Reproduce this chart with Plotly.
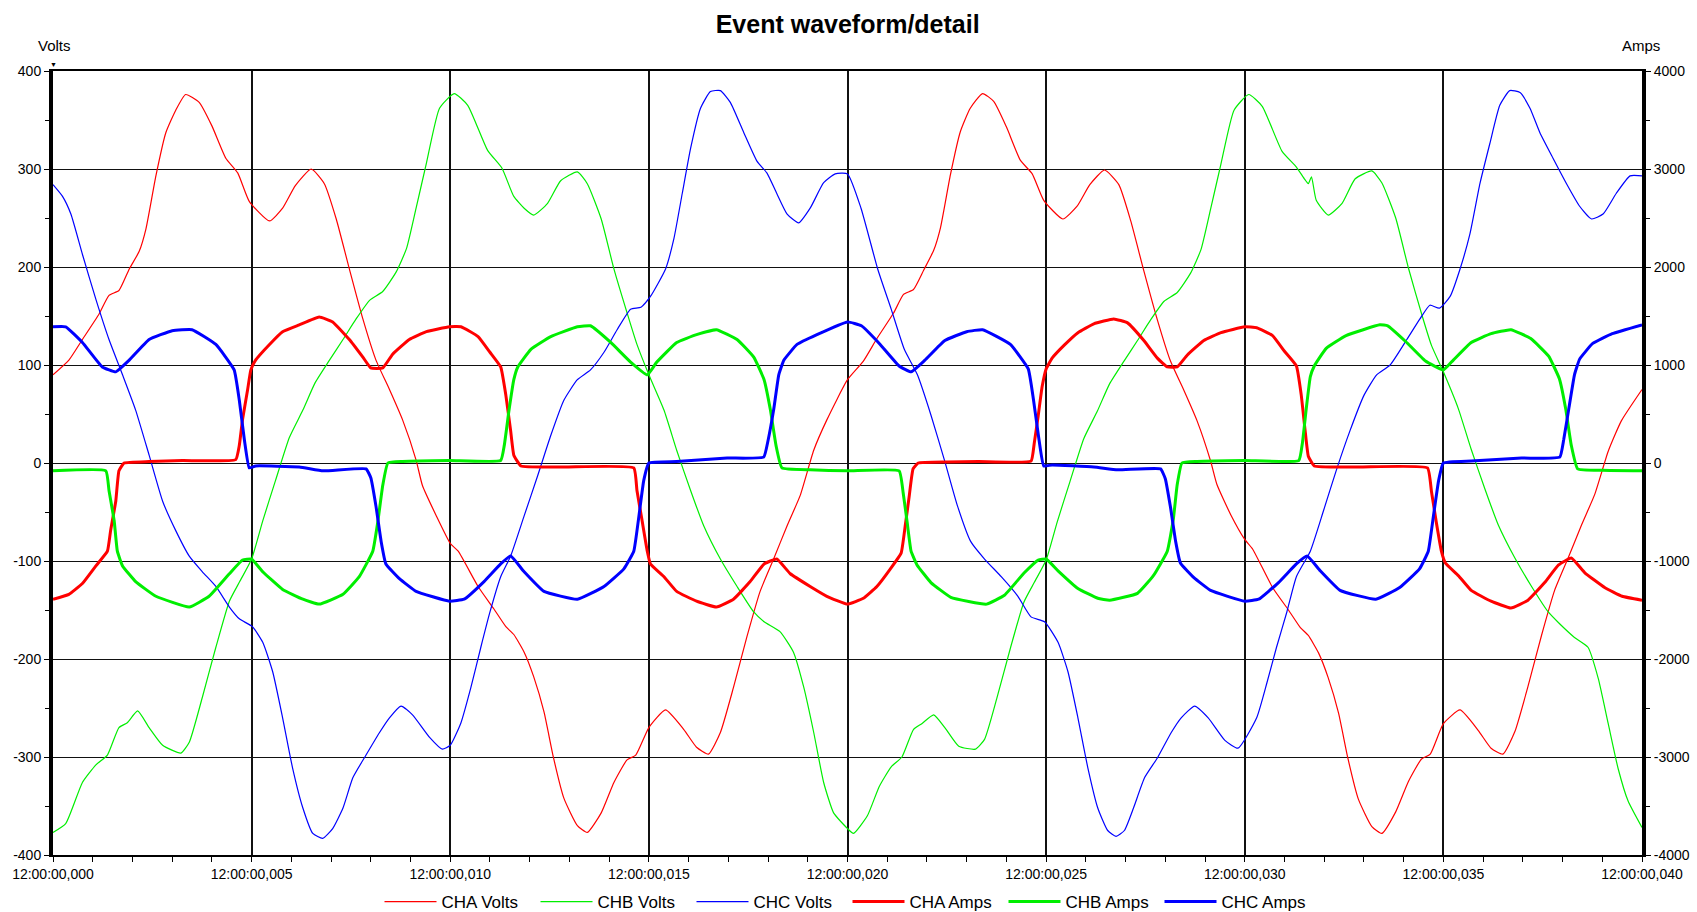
import plotly.graph_objects as go

# ---------------- data (time in ms, volts / amps) ----------------
t_cha_v = [0.0, 0.4, 0.74, 1.16, 1.41, 1.66, 1.92, 2.17, 2.34, 2.59, 2.84, 3.09, 3.34, 3.68, 4.0, 4.35, 4.65, 4.94,
           5.45, 5.78, 6.1, 6.5, 6.83, 7.13, 7.46, 7.8, 8.13, 8.47, 8.8, 9.14, 9.3, 9.65, 10.0, 10.2, 10.7, 11.1,
           11.4, 11.6, 11.86, 12.1, 12.36, 12.6, 12.86, 13.2, 13.45, 13.8, 14.12, 14.45, 14.67, 15.0, 15.42, 15.88,
           16.2, 16.5, 16.8, 17.13, 17.47, 17.8, 18.14, 18.48, 18.81, 19.15, 19.48,
           20.0, 20.4, 20.74, 21.16, 21.41, 21.66, 21.92, 22.17, 22.34, 22.59, 22.84, 23.09, 23.4, 23.68, 24.0,
           24.35, 24.65, 24.94, 25.42, 25.78, 26.1, 26.47, 26.83, 27.13, 27.46, 27.8, 28.13, 28.47, 28.8, 29.14,
           29.3, 29.65, 30.0, 30.2, 30.7, 31.1, 31.4, 31.6, 31.86, 32.1, 32.36, 32.6, 32.86, 33.2, 33.45, 33.8,
           34.12, 34.45, 34.67, 35.0, 35.42, 35.88, 36.2, 36.5, 36.8, 37.13, 37.47, 37.8, 38.14, 38.48, 38.81,
           39.15, 39.48, 40.0]
cha_v = [90, 105, 126, 152, 171, 176, 198, 216, 239, 293, 337, 360, 376, 368, 344, 311, 296, 267,
         247, 260, 283, 300, 285, 249, 198, 147, 105, 75, 44, 3, -23, -54, -82, -90, -126, -149,
         -167, -175, -193, -218, -254, -301, -342, -370, -377, -357, -326, -303, -298, -270, -252, -272,
         -290, -297, -275, -229, -177, -131, -98, -64, -33, 13, 44,
         85, 104, 127, 153, 172, 177, 197, 217, 240, 294, 338, 362, 377, 369, 343,
         309, 295, 268, 249, 262, 284, 299, 284, 247, 196, 146, 104, 74, 43, 2,
         -22, -53, -78, -88, -127, -150, -168, -176, -194, -219, -255, -302, -343, -371, -378, -356,
         -325, -302, -297, -266, -252, -273, -291, -297, -274, -228, -176, -130, -97, -63, -32,
         12, 43, 75]

t_chb_v = [0.0, 0.32, 0.74, 1.08, 1.37, 1.66, 1.87, 2.13, 2.42, 2.76, 3.22, 3.43, 3.76, 4.1, 4.44, 4.7, 5.0, 5.28,
           5.6, 5.95, 6.29, 6.6, 6.96, 7.3, 7.63, 7.97, 8.3, 8.64, 8.9, 9.14, 9.4, 9.73, 10.1, 10.44, 10.94, 11.3,
           11.6, 11.86, 12.1, 12.45, 12.78, 13.2, 13.45, 13.8, 14.12, 14.46, 14.7, 15.0, 15.38, 15.7, 16.05, 16.38,
           16.8, 17.22, 17.64, 17.9, 18.3, 18.64, 18.9, 19.15, 19.4, 19.65,
           20.0, 20.15, 20.5, 20.8, 21.1, 21.37, 21.66, 21.87, 22.17, 22.45, 22.8, 23.22, 23.45, 23.76, 24.1,
           24.44, 24.7, 25.0, 25.28, 25.6, 25.95, 26.29, 26.6, 26.96, 27.3, 27.63, 27.97, 28.3, 28.64, 28.9,
           29.14, 29.4, 29.73, 30.1, 30.44, 30.94, 31.3, 31.5, 31.6, 31.68, 31.8, 32.1, 32.45, 32.78, 33.2, 33.45,
           33.8, 34.12, 34.46, 34.7, 35.0, 35.38, 35.7, 36.05, 36.38, 36.8, 37.22, 37.64, 37.9, 38.3, 38.64, 38.9,
           39.15, 39.4, 39.65, 40.0]
chb_v = [-377, -368, -326, -308, -298, -270, -265, -253, -270, -288, -296, -285, -239, -188, -141, -121, -98, -59,
         -18, 26, 54, 82, 105, 126, 147, 166, 175, 195, 219, 260, 306, 362, 377, 365, 319, 301,
         272, 260, 253, 265, 288, 297, 285, 249, 198, 152, 121, 90, 54, 13, -28, -64,
         -98, -126, -152, -162, -172, -193, -229, -275, -326, -357,
         -373, -378, -360, -330, -310, -300, -272, -266, -257, -270, -289, -292, -282, -240, -189,
         -142, -122, -99, -60, -19, 25, 53, 81, 104, 125, 146, 165, 174, 194, 218,
         259, 305, 360, 376, 364, 318, 302, 290, 285, 292, 268, 253, 265, 290, 298, 286,
         250, 199, 151, 120, 93, 55, 14, -27, -63, -97, -126, -152, -163, -178, -188, -220,
         -266, -312, -345, -372]

t_chc_v = [0.0, 0.24, 0.45, 0.74, 1.08, 1.41, 1.75, 2.08, 2.42, 2.76, 3.09, 3.43, 3.76, 4.1, 4.44, 4.69, 5.02,
           5.28, 5.53, 5.78, 6.03, 6.29, 6.54, 6.79, 7.04, 7.3, 7.55, 7.88, 8.22, 8.47, 8.76, 9.05, 9.48, 9.8,
           10.0, 10.27, 10.52, 10.77, 11.0, 11.27, 11.52, 11.86, 12.2, 12.53, 12.86, 13.2, 13.53, 13.87, 14.2,
           14.54, 14.8, 15.04, 15.42, 15.63, 15.84, 16.05, 16.3, 16.55, 16.8, 17.05, 17.39, 17.72, 17.97, 18.22,
           18.48, 18.77, 19.06, 19.4, 19.69,
           20.0, 20.34, 20.76, 21.1, 21.43, 21.76, 22.1, 22.44, 22.77, 23.1, 23.45, 23.87, 24.29, 24.62, 24.96,
           25.3, 25.55, 25.8, 26.05, 26.3, 26.55, 26.76, 26.97, 27.2, 27.48, 27.8, 28.15, 28.4, 28.74, 29.08,
           29.5, 29.83, 30.3, 30.56, 30.8, 31.06, 31.3, 31.65, 31.98, 32.3, 32.65, 33.0, 33.32, 33.66, 34.08,
           34.41, 34.66, 34.9, 35.17, 35.42, 35.67, 35.92, 36.17, 36.42, 36.67, 36.93, 37.18, 37.43, 37.76, 38.1,
           38.43, 38.73, 39.02, 39.35, 39.7, 40.0]
chc_v = [284, 272, 254, 213, 167, 126, 90, 54, 8, -39, -69, -95, -111, -126, -147, -159, -167,
         -183, -213, -260, -311, -352, -378, -383, -373, -352, -321, -298, -275, -260, -248, -257, -280, -292,
         -288, -265, -229, -188, -152, -116, -95, -54, -13, 28, 64, 85, 95, 113, 136,
         157, 159, 170, 198, 229, 275, 321, 362, 379, 380, 368, 337, 308, 296, 275,
         254, 245, 260, 286, 295,
         295, 260, 198, 157, 116, 90, 49, 3, -44, -80, -98, -116, -136, -157, -162,
         -183, -213, -260, -311, -352, -375, -381, -375, -352, -321, -301, -275, -260, -248, -260,
         -283, -291, -260, -224, -188, -152, -116, -90, -49, -8, 33, 69, 90, 100, 126,
         147, 161, 158, 170, 198, 234, 285, 326, 365, 380, 378, 362, 337, 311, 285,
         262, 249, 254, 275, 293, 293]

t_cha_a = [0.0, 0.4, 0.74, 1.08, 1.37, 1.45, 1.58, 1.66, 1.79, 2.42, 3.26, 4.6, 4.69, 4.77, 4.9, 4.98, 5.1, 5.45,
           5.78, 6.2, 6.7, 7.04, 7.46, 7.8, 8.0, 8.3, 8.55, 8.97, 9.4, 9.98, 10.27, 10.7, 11.0, 11.27, 11.4, 11.52,
           11.6, 11.78, 12.86, 14.62, 14.7, 14.83, 14.96, 15.04, 15.38, 15.7, 16.2, 16.7, 17.13, 17.55, 17.9,
           18.22, 18.56, 19.06, 19.48,
           20.0, 20.4, 20.74, 21.08, 21.35, 21.45, 21.55, 21.65, 21.78, 22.5, 23.3, 24.62, 24.7, 24.8, 24.9, 25.0,
           25.15, 25.45, 25.8, 26.2, 26.7, 27.05, 27.46, 27.8, 28.05, 28.3, 28.55, 28.97, 29.4, 30.0, 30.3, 30.7,
           31.0, 31.3, 31.42, 31.52, 31.6, 31.75, 32.86, 34.6, 34.7, 34.82, 34.95, 35.05, 35.38, 35.7, 36.2,
           36.7, 37.13, 37.55, 37.9, 38.22, 38.56, 39.06, 39.5, 40.0]
cha_a = [-1390, -1340, -1230, -1050, -900, -690, -390, -80, 0, 15, 25, 35, 180, 440, 750, 950, 1050, 1210,
         1340, 1410, 1490, 1440, 1260, 1080, 970, 970, 1110, 1260, 1340, 1390, 1390, 1290, 1130, 980, 690, 330,
         80, -30, -40, -50, -280, -590, -900, -1030, -1160, -1310, -1410, -1470, -1390, -1210, -1030,
         -980, -1130, -1260, -1360,
         -1440, -1380, -1260, -1080, -920, -650, -350, -60, 0, 10, 15, 20, 200, 480, 780, 960,
         1070, 1200, 1330, 1420, 1470, 1430, 1250, 1070, 980, 980, 1100, 1250, 1330, 1390, 1380, 1300,
         1140, 990, 700, 330, 70, -30, -40, -50, -290, -600, -900, -1020, -1150, -1300, -1410,
         -1480, -1400, -1220, -1040, -970, -1120, -1270, -1360, -1400]

t_chb_a = [0.0, 1.33, 1.41, 1.54, 1.62, 1.75, 2.08, 2.59, 3.43, 3.93, 4.44, 4.77, 5.0, 5.28, 5.78, 6.29, 6.7, 7.3,
           7.71, 8.05, 8.18, 8.3, 8.43, 8.8, 9.98, 11.27, 11.36, 11.48, 11.6, 11.7, 12.03, 12.53, 13.2, 13.53,
           14.04, 14.54, 14.96, 15.2, 15.7, 16.2, 16.7, 17.22, 17.64, 17.9, 18.06, 18.2, 18.35, 19.06,
           20.0, 21.3, 21.4, 21.5, 21.6, 21.75, 22.1, 22.6, 23.5, 23.95, 24.45, 24.8, 25.0, 25.3, 25.8, 26.3,
           26.6, 27.3, 27.7, 28.05, 28.2, 28.3, 28.42, 28.8, 30.0, 31.36, 31.45, 31.55, 31.65, 31.75, 32.05,
           32.55, 33.4, 33.6, 34.05, 34.55, 35.0, 35.25, 35.7, 36.2, 36.7, 37.2, 37.65, 37.92, 38.08, 38.22,
           38.38, 39.0, 40.0]
chb_a = [-80, -80, -280, -590, -900, -1050, -1210, -1360, -1470, -1360, -1130, -990, -980, -1110, -1290, -1390,
         -1440, -1340, -1160, -900, -590, -230, 0, 15, 25, 25, 180, 540, 850, 980, 1160, 1290, 1390, 1400,
         1230, 1030, 900, 1030, 1230, 1310, 1360, 1260, 1080, 850, 540, 180, -50, -70,
         -80, -80, -300, -600, -900, -1040, -1220, -1370, -1440, -1350, -1120, -990, -980, -1100, -1280,
         -1380, -1400, -1330, -1150, -900, -580, -220, 0, 15, 25, 25, 200, 560, 880, 990, 1170,
         1300, 1410, 1400, 1240, 1040, 950, 1050, 1230, 1320, 1360, 1270, 1090, 860, 550, 180,
         -60, -75, -80]

t_chc_a = [0.0, 0.32, 0.74, 1.24, 1.58, 1.92, 2.42, 3.0, 3.5, 4.1, 4.56, 4.69, 4.82, 4.94, 5.1, 6.2, 6.8, 7.88,
           8.0, 8.13, 8.26, 8.38, 8.72, 9.14, 9.98, 10.35, 10.85, 11.27, 11.52, 11.86, 12.36, 13.2, 13.87, 14.37,
           14.62, 14.75, 14.87, 15.0, 15.7, 16.97, 17.89, 18.0, 18.14, 18.27, 18.4, 18.73, 19.23,
           20.0, 20.35, 20.8, 21.3, 21.6, 21.95, 22.45, 23.0, 23.4, 24.1, 24.55, 24.68, 24.82, 24.94, 25.15,
           26.2, 26.8, 27.88, 28.0, 28.13, 28.26, 28.38, 28.72, 29.14, 30.0, 30.35, 30.85, 31.3, 31.57, 31.9,
           32.4, 33.3, 33.9, 34.4, 34.62, 34.75, 34.88, 35.0, 35.7, 36.97, 37.93, 38.03, 38.16, 38.3, 38.43,
           38.76, 39.25, 40.0]
chc_a = [1390, 1390, 1230, 980, 930, 1050, 1260, 1350, 1360, 1210, 950, 640, 230, -50, -30, -40, -80, -60,
         -150, -440, -800, -1030, -1180, -1310, -1410, -1390, -1210, -1030, -950, -1110, -1310, -1390, -1260,
         -1080, -900, -540, -180, 0, 15, 50, 60, 230, 540, 900, 1050, 1210, 1310,
         1440, 1400, 1220, 990, 930, 1050, 1250, 1340, 1360, 1210, 960, 650, 240, -30, -20,
         -40, -70, -60, -160, -450, -800, -1020, -1170, -1300, -1410, -1390, -1220, -1030, -950, -1100,
         -1300, -1390, -1270, -1080, -900, -540, -180, 0, 20, 50, 60, 240, 560, 900, 1060,
         1220, 1320, 1410]

x_tick_vals = [0, 5, 10, 15, 20, 25, 30, 35, 40]
x_tick_text = ["12:00:00,000", "12:00:00,005", "12:00:00,010", "12:00:00,015", "12:00:00,020",
               "12:00:00,025", "12:00:00,030", "12:00:00,035", "12:00:00,040"]
v_tick_vals = [-400, -300, -200, -100, 0, 100, 200, 300, 400]
v_tick_text = ["-400", "-300", "-200", "-100", "0", "100", "200", "300", "400"]
a_tick_vals = [-4000, -3000, -2000, -1000, 0, 1000, 2000, 3000, 4000]
a_tick_text = ["-4000", "-3000", "-2000", "-1000", "0", "1000", "2000", "3000", "4000"]

RED, GREEN, BLUE = "#FF0000", "#00EE00", "#0000FF"
FONT = "Liberation Sans"

fig = go.Figure()
volt_series = [("CHA Volts", t_cha_v, cha_v, RED), ("CHB Volts", t_chb_v, chb_v, GREEN),
               ("CHC Volts", t_chc_v, chc_v, BLUE)]
amp_series = [("CHA Amps", t_cha_a, cha_a, RED), ("CHB Amps", t_chb_a, chb_a, GREEN),
              ("CHC Amps", t_chc_a, chc_a, BLUE)]
for name, tx, vy, col in volt_series:
    fig.add_trace(go.Scatter(x=tx, y=vy, name=name, mode="lines",
                             line=dict(color=col, width=1.2, shape="spline", smoothing=0.5),
                             yaxis="y"))
for name, tx, vy, col in amp_series:
    fig.add_trace(go.Scatter(x=tx, y=vy, name=name, mode="lines",
                             line=dict(color=col, width=3, shape="spline", smoothing=0.35),
                             yaxis="y2"))

fig.update_layout(
    width=1697, height=912,
    margin=dict(l=53, r=55, t=71, b=57, autoexpand=False),
    paper_bgcolor="white", plot_bgcolor="white",
    font=dict(family=FONT, size=14, color="black"),
    title=dict(text="<b>Event waveform/detail</b>", x=0.4995, xanchor="center", y=0.973, yanchor="middle",
               font=dict(family=FONT, size=25, color="black")),
    showlegend=True,
    legend=dict(orientation="h", x=0.5, xanchor="center", y=-0.06, yanchor="middle",
                font=dict(family=FONT, size=17), itemwidth=52, entrywidth=89,
                entrywidthmode="pixels", tracegroupgap=0, bgcolor="rgba(0,0,0,0)"),
    xaxis=dict(range=[0, 40], tickmode="array", tickvals=x_tick_vals, ticktext=x_tick_text,
               showgrid=True, gridcolor="#111111", gridwidth=2, zeroline=False,
               showline=True, linecolor="black", linewidth=2, mirror=True,
               ticks="outside", ticklen=5, tickcolor="black", tickfont=dict(size=14),
               minor=dict(tickmode="linear", tick0=0, dtick=1, ticks="outside", ticklen=5,
                          tickcolor="black", showgrid=False)),
    yaxis=dict(range=[-400, 400], tickmode="array", tickvals=v_tick_vals, ticktext=v_tick_text,
               showgrid=True, gridcolor="#111111", gridwidth=1, zeroline=False,
               showline=True, linecolor="black", linewidth=4,
               ticks="outside", ticklen=5, tickcolor="black", tickfont=dict(size=14),
               minor=dict(tickmode="linear", tick0=0, dtick=50, ticks="outside", ticklen=4,
                          tickcolor="black", showgrid=False)),
    yaxis2=dict(range=[-4000, 4000], overlaying="y", side="right", tickmode="array",
                tickvals=a_tick_vals, ticktext=a_tick_text, showgrid=False, zeroline=False,
                showline=True, linecolor="black", linewidth=4,
                ticks="outside", ticklen=5, tickcolor="black", tickfont=dict(size=14),
                minor=dict(tickmode="linear", tick0=0, dtick=500, ticks="outside", ticklen=4,
                           tickcolor="black")),
    annotations=[
        dict(text="Volts", xref="paper", yref="paper", x=0.001, y=1.032, xanchor="center", yanchor="middle",
             showarrow=False, font=dict(family=FONT, size=15)),
        dict(text="Amps", xref="paper", yref="paper", x=0.9995, y=1.032, xanchor="center", yanchor="middle",
             showarrow=False, font=dict(family=FONT, size=15)),
        dict(text="▼", xref="paper", yref="paper", x=0.0, y=1.008, xanchor="center", yanchor="middle",
             showarrow=False, font=dict(family=FONT, size=7)),
    ],
)

fig.write_html("out.html")
